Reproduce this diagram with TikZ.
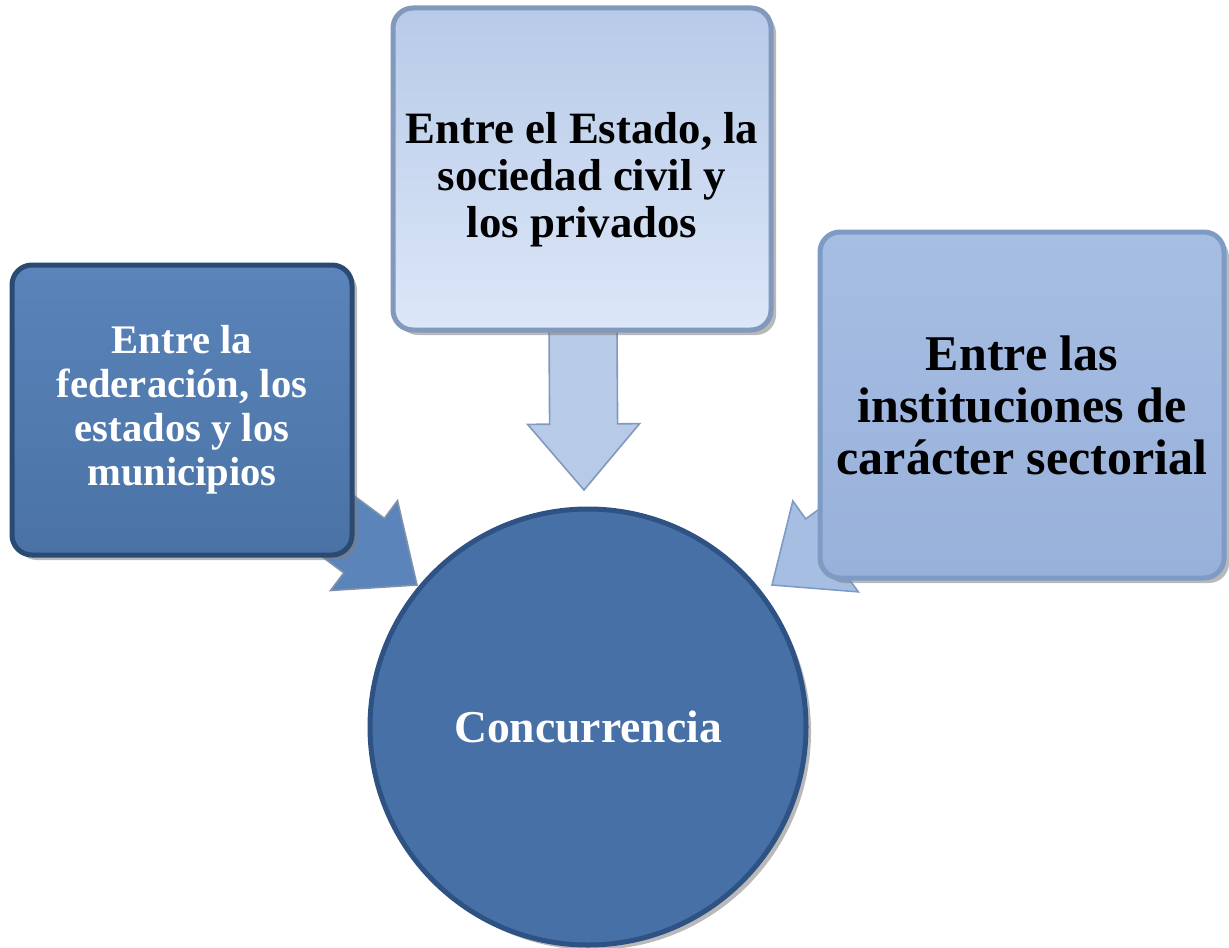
\documentclass[tikz,border=0pt]{standalone}
\usepackage{fontspec}
\setmainfont{Liberation Serif}
\usepackage{tikz}
\usetikzlibrary{calc,shadows,backgrounds}

\definecolor{navyfillA}{HTML}{5A84BA}
\definecolor{navyfillB}{HTML}{4A72A5}
\definecolor{navyedge}{HTML}{2B4A73}
\definecolor{paleA}{HTML}{B7CAE8}
\definecolor{paleB}{HTML}{DCE7F8}
\definecolor{paleedge}{HTML}{8298BC}
\definecolor{midA}{HTML}{A7BEE3}
\definecolor{midB}{HTML}{98B1DA}
\definecolor{midedge}{HTML}{7E9BC6}
\definecolor{circfill}{HTML}{4770A6}
\definecolor{circedge}{HTML}{2E5283}

\tikzset{
  box/.style={rectangle, rounded corners=10pt, align=center, line width=2.5pt,
    drop shadow={shadow xshift=2.5pt, shadow yshift=-2.5pt, opacity=0.55}},
  darkbox/.style={box, draw=navyedge, top color=navyfillA, bottom color=navyfillB,
    text=white, font=\fontsize{20.3}{22}\selectfont\bfseries},
  palebox/.style={box, draw=paleedge, top color=paleA, bottom color=paleB,
    text=black, font=\fontsize{22.4}{23.7}\selectfont\bfseries},
  midbox/.style={box, draw=midedge, top color=midA, bottom color=midB,
    text=black, font=\fontsize{25}{26}\selectfont\bfseries},
  hub/.style={circle, draw=circedge, fill=circfill, line width=2.5pt, text=white,
    font=\fontsize{22.8}{26}\selectfont\bfseries,
    drop shadow={shadow xshift=2.5pt, shadow yshift=-2.5pt, opacity=0.55}},
  blockarrow/.style={line width=0.8pt, line join=miter, to path={
    ($(\tikztostart)!17pt!90:(\tikztotarget)$)
    -- ($(\tikztotarget)!37.1pt!-27.26:(\tikztostart)$)
    -- ($(\tikztotarget)!43.3pt!-40.31:(\tikztostart)$)
    -- (\tikztotarget)
    -- ($(\tikztotarget)!43.3pt!40.31:(\tikztostart)$)
    -- ($(\tikztotarget)!37.1pt!27.26:(\tikztostart)$)
    -- ($(\tikztostart)!17pt!-90:(\tikztotarget)$)
    -- cycle}}
}

\begin{document}
\begin{tikzpicture}[x=0.5pt,y=-0.5pt,line cap=round,line join=round]
  \useasboundingbox (0,0) rectangle (1229,947);

  % the three sources
  \node[darkbox, minimum width=170pt, minimum height=145pt] (fed) at (182,410)
    {Entre la\\federación, los\\estados y los\\municipios};
  \node[palebox, minimum width=189pt, minimum height=161pt] (est) at (582,169)
    {\raisebox{-6pt}[\height][\depth]{\begin{tabular}{@{}c@{}}Entre el Estado, la\\sociedad civil y\\los privados\end{tabular}}};
  \node[midbox, minimum width=202pt, minimum height=173pt] (sec) at (1022,405)
    {Entre las\\instituciones de\\carácter sectorial};

  % the centre
  \node[hub, minimum size=218pt] (conc) at (588,727) {Concurrencia};

  % arrow tips
  \coordinate (fedtip) at (417,585);
  \coordinate (esttip) at (584,490);
  \coordinate (sectip) at (772,585);

  \begin{scope}[on background layer]
    \draw[blockarrow, draw=navyedge!60, fill=navyfillA] (fed.center) to (fedtip);
    \draw[blockarrow, draw=paleedge, fill=paleA] (est.center) to (esttip);
    \draw[blockarrow, draw=midedge, fill=midA] (sec.center) to (sectip);
  \end{scope}
\end{tikzpicture}
\end{document}
